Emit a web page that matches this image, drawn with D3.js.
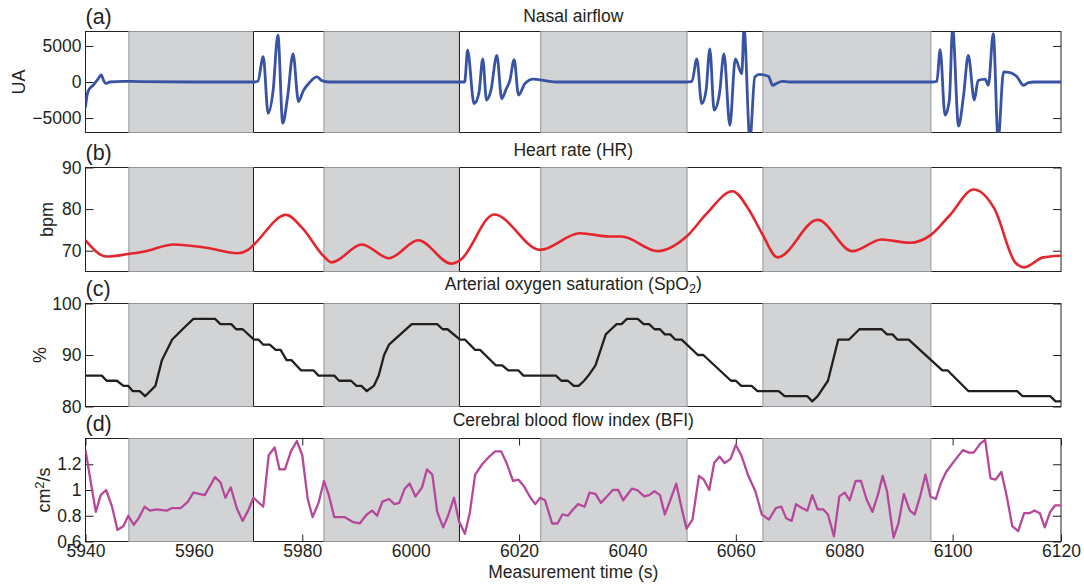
<!DOCTYPE html>
<html>
<head>
<meta charset="utf-8">
<script src="https://cdn.jsdelivr.net/npm/d3@7"></script>
<style>
  body { margin: 0; background: #fff; }
  svg { display: block; }
  text { font-family: "Liberation Sans", Arial, Helvetica, sans-serif; fill: #231f20; }
</style>
</head>
<body>
<svg id="chart" width="1084" height="584"></svg>
<script>
// time axis
const xTicks = [5940, 5960, 5980, 6000, 6020, 6040, 6060, 6080, 6100, 6120];

// apnea periods (gray) and event markers
const grayStart = [5948, 5984, 6024, 6065];
const grayEnd = [5971, 6009, 6051, 6096];
const eventLines = [5971, 6009];

// (a) nasal airflow
const airTime = [5940.0, 5940.3, 5940.6, 5941.4, 5942.3, 5942.9, 5943.3, 5943.7, 5944.5, 5946.9, 5950, 5960, 5971.0,
    5971.8, 5972.8, 5973.7, 5974.6, 5975.5, 5976.4, 5977.3, 5978.3, 5979.3, 5980.2, 5981.2, 5982.7, 5983.6, 5985.1, 5990, 6009.9,
    6010.0, 6010.5, 6011.7, 6012.6, 6013.3, 6014.0, 6014.8, 6015.9, 6016.8, 6017.6, 6018.3, 6019.1, 6019.9, 6021.1, 6022.6, 6025.1, 6027, 6050.9,
    6051.9, 6052.8, 6053.7, 6054.5, 6055.2, 6056.0, 6057.0, 6057.8, 6058.9, 6059.9, 6061.1, 6061.5, 6062.6, 6063.5, 6064.4, 6066.0, 6066.8, 6067.5, 6068.5, 6070, 6096.0,
    6097.1, 6097.7, 6098.6, 6099.4, 6100.0, 6101.1, 6102.0, 6102.9, 6104.0, 6104.7, 6106.0, 6106.6, 6107.5, 6108.4, 6109.4, 6110.6, 6111.8, 6113.1, 6114.0, 6115, 6120];
const airValue = [-3450, -1800, -1100, -450, 400, 1000, 300, -200, 0, 100, 50, 0, 0,
    100, 3500, -4350, -1300, 6500, -5700, -2000, 3900, -2700, -1200, -200, 700, 200, 0, 0, 0,
    100, 4400, -3000, -1500, 3200, -2500, -1200, 3700, -2300, -1000, 200, 3100, -1800, -200, 400, 150, 0, 0,
    100, 3200, -3000, -1200, 4600, -3900, -1500, 3900, -6000, 3200, 1150, 7500, -8000, 700, 1050, 800, -450, -200, 100, 0, 0,
    100, 4500, -4600, -2500, 7500, -6100, -2000, 3700, -2500, 200, 400, -450, 6700, -8000, 1400, 1300, 800, -450, -100, 0, 0];
const airTicks = [-5000, 0, 5000];

// (b) heart rate
const hrTime = [5940, 5943.9, 5947.9, 5950.9, 5956.3, 5962.3, 5968.1, 5970.0, 5971.1, 5977.0, 5980.1, 5984.0, 5985.4,
    5991.0, 5996.0, 6001.4, 6007.5, 6009.1, 6015.4, 6023.9, 6031.2, 6036.7, 6038.9, 6045.6, 6050.9, 6054.6, 6059.4,
    6062.3, 6064.8, 6067.7, 6075.1, 6081.5, 6086.9, 6092.1, 6096.0, 6099.4, 6103.9, 6107.7, 6111.6, 6113.2, 6116.7, 6119.9];
const hrValue = [72.5, 68.6, 69.2, 69.8, 71.5, 70.7, 69.4, 70.2, 71.5, 78.6, 75.3, 68.6, 67.2,
    71.5, 68.2, 72.5, 66.9, 67.7, 78.7, 70.2, 74.2, 73.4, 73.4, 69.9, 73.4, 78.9, 84.3,
    80.1, 74.2, 68.4, 77.4, 69.9, 72.7, 71.9, 73.8, 78.4, 84.7, 80.1, 67.1, 66.0, 68.4, 68.8];
const hrTicks = [70, 80, 90];

// (c) SpO2
const spo2Time = [5940.0, 5943.0, 5943.9, 5945.8, 5947.0, 5947.9, 5948.7, 5950.0, 5951.0, 5952.9, 5954.1, 5956.0, 5957.9, 5959.9,
    5963.9, 5964.9, 5966.9, 5967.8, 5969.0, 5971.1, 5971.9, 5972.8, 5974.0, 5975.1, 5976.0, 5977.1, 5978.0, 5979.8, 5982.1,
    5983.0, 5985.9, 5986.8, 5989.0, 5990.0, 5990.9, 5991.9, 5993.2, 5994.1, 5995.1, 5996.0, 6000.2, 6004.9, 6005.9, 6006.8,
    6009.1, 6010.0, 6011.9, 6012.8, 6015.7, 6016.9, 6018.0, 6019.9, 6020.8, 6026.8, 6027.8, 6029.0, 6030.1, 6031.0, 6032.0,
    6032.8, 6034.1, 6036.0, 6037.0, 6038.0, 6038.9, 6039.9, 6041.9, 6043.0, 6044.0, 6045.0, 6046.0, 6046.9, 6047.9, 6048.8,
    6050.0, 6053.0, 6054.0, 6059.1, 6060.0, 6061.0, 6062.9, 6064.0, 6067.9, 6069.0, 6073.2, 6074.1, 6075.1, 6077.0, 6078.9,
    6080.9, 6082.8, 6086.9, 6087.9, 6088.9, 6089.8, 6091.9, 6098.1, 6099.1, 6102.9, 6111.9, 6112.9, 6118.0, 6119.0, 6120.0];
const spo2Value = [86, 86, 85, 85, 84, 84, 83, 83, 82, 84, 89, 93, 95, 97,
    97, 96, 96, 95, 95, 93, 93, 92, 92, 91, 91, 89, 89, 87, 87,
    86, 86, 85, 85, 84, 84, 83, 84, 86, 90, 92, 96, 96, 95, 95,
    93, 93, 91, 91, 88, 88, 87, 87, 86, 86, 85, 85, 84, 84, 85,
    86, 88, 94, 95, 96, 96, 97, 97, 96, 96, 95, 95, 94, 94, 93,
    93, 90, 90, 85, 85, 84, 84, 83, 83, 82, 82, 81, 82, 85, 93,
    93, 95, 95, 94, 94, 93, 93, 87, 87, 83, 83, 82, 82, 81, 81];
const spo2Ticks = [80, 90, 100];

// (d) cerebral blood flow index
const bfiTime = [5940.0, 5940.9, 5941.9, 5942.8, 5943.8, 5944.9, 5945.9, 5947.0, 5947.9, 5948.9, 5949.8, 5950.9, 5951.9, 5953.1,
    5955.0, 5956.0, 5957.6, 5958.9, 5959.9, 5962.0, 5963.1, 5963.9, 5964.9, 5965.8, 5966.8, 5967.9, 5969.0, 5970.0, 5971.0,
    5972.8, 5973.8, 5974.9, 5975.8, 5976.8, 5977.9, 5979.0, 5980.0, 5981.0, 5981.9, 5983.0, 5984.0, 5984.9, 5985.9, 5987.8,
    5989.4, 5990.6, 5991.9, 5992.9, 5993.8, 5994.8, 5996.0, 5997.0, 5997.9, 5998.9, 5999.8, 6000.9, 6002.1, 6003.0, 6004.0,
    6004.9, 6006.0, 6006.9, 6008.0, 6008.9, 6010.0, 6010.9, 6011.9, 6013.2, 6014.5, 6015.6, 6016.7, 6017.6, 6018.9, 6019.9,
    6020.9, 6022.1, 6023.0, 6023.9, 6024.8, 6026.1, 6027.1, 6028.0, 6029.0, 6030.0, 6030.9, 6032.1, 6033.0, 6034.1, 6035.1,
    6036.0, 6037.3, 6038.3, 6039.2, 6040.8, 6041.8, 6043.1, 6044.0, 6045.0, 6046.0, 6046.9, 6047.9, 6049.0, 6050.1, 6050.9,
    6052.0, 6053.2, 6054.1, 6055.1, 6056.0, 6057.0, 6057.9, 6059.0, 6060.0, 6061.0, 6062.3, 6063.6, 6064.8, 6066.1, 6067.4,
    6068.4, 6069.3, 6070.3, 6071.1, 6072.2, 6073.2, 6074.1, 6075.1, 6076.1, 6077.0, 6078.1, 6079.1, 6080.1, 6081.0, 6082.1,
    6083.1, 6084.1, 6085.2, 6086.2, 6087.1, 6087.9, 6089.1, 6090.0, 6091.0, 6092.1, 6093.0, 6094.0, 6095.0, 6095.9, 6096.9,
    6097.8, 6098.8, 6100.4, 6101.9, 6103.0, 6103.9, 6105.1, 6106.0, 6107.0, 6107.9, 6109.0, 6110.0, 6111.0, 6112.1, 6113.2,
    6114.2, 6115.1, 6116.1, 6117.0, 6118.0, 6118.9, 6119.9];
const bfiValue = [1.31, 1.08, 0.83, 0.96, 1.00, 0.87, 0.69, 0.72, 0.80, 0.73, 0.78, 0.87, 0.84, 0.85,
    0.84, 0.86, 0.86, 0.91, 0.98, 0.96, 1.04, 1.10, 1.06, 0.94, 1.02, 0.86, 0.76, 0.84, 0.94,
    0.87, 1.27, 1.33, 1.16, 1.16, 1.30, 1.38, 1.27, 0.93, 0.79, 0.90, 1.07, 0.96, 0.79, 0.79,
    0.75, 0.74, 0.81, 0.84, 0.80, 0.91, 0.93, 0.89, 0.90, 1.01, 1.05, 0.95, 1.02, 1.16, 1.12,
    0.83, 0.71, 0.80, 0.94, 0.76, 0.66, 0.82, 1.12, 1.20, 1.26, 1.30, 1.30, 1.22, 1.07, 1.08,
    1.03, 0.94, 0.89, 0.94, 0.92, 0.74, 0.74, 0.81, 0.80, 0.85, 0.89, 0.87, 0.98, 0.97, 0.90,
    0.94, 1.00, 1.00, 0.92, 1.01, 1.00, 0.95, 0.96, 0.99, 0.96, 0.81, 0.92, 1.05, 0.84, 0.70,
    0.77, 1.11, 1.08, 1.00, 1.21, 1.26, 1.21, 1.24, 1.35, 1.27, 1.11, 0.99, 0.81, 0.77, 0.86,
    0.87, 0.78, 0.76, 0.89, 0.86, 0.84, 0.96, 0.85, 0.85, 0.81, 0.64, 0.95, 0.98, 0.92, 1.07,
    1.07, 0.93, 0.83, 0.96, 1.11, 0.99, 0.63, 0.74, 0.97, 0.84, 0.81, 0.95, 1.12, 0.95, 0.93,
    1.05, 1.14, 1.23, 1.31, 1.29, 1.29, 1.36, 1.39, 1.09, 1.08, 1.14, 0.95, 0.72, 0.68, 0.82,
    0.82, 0.84, 0.82, 0.71, 0.83, 0.88, 0.88];
const bfiTicks = [0.6, 0.8, 1, 1.2];

const svg = d3.select("#chart");
const plotLeft = 85.5, plotRight = 1061;
const x = d3.scaleLinear().domain([5940, 6120]).range([plotLeft, plotRight]);

const panels = [
    {id: "a", title: [["Nasal airflow"]], top: 31.5, bottom: 132.5, titleGap: 9.5, domain: [-7000, 7000],
     ticks: airTicks, fmt: d3.format("d"), time: airTime, value: airValue, color: "#3953a4", width: 2.8,
     curve: d3.curveMonotoneX, ylabel: [["UA"]], ylabelX: 25},
    {id: "b", title: [["Heart rate (HR)"]], top: 167.5, bottom: 271.5, titleGap: 12, domain: [65, 90],
     ticks: hrTicks, fmt: d3.format("d"), time: hrTime, value: hrValue, color: "#e3262d", width: 2.6,
     curve: d3.curveMonotoneX, ylabel: [["bpm"]], ylabelX: 53},
    {id: "c", title: [["Arterial oxygen saturation (SpO"], ["2", "sub"], [")"]], top: 303.5, bottom: 406.5, titleGap: 14, domain: [80, 100],
     ticks: spo2Ticks, fmt: d3.format("d"), time: spo2Time, value: spo2Value, color: "#231f20", width: 2.3,
     curve: d3.curveLinear, ylabel: [["%"]], ylabelX: 46},
    {id: "d", title: [["Cerebral blood flow index (BFI)"]], top: 438.5, bottom: 541.5, titleGap: 12.5, domain: [0.6, 1.4],
     ticks: bfiTicks, fmt: d3.format("~g"), time: bfiTime, value: bfiValue, color: "#b6489c", width: 2.3,
     curve: d3.curveLinear, ylabel: [["cm"], ["2", "sup"], ["/s"]], ylabelX: 50}
];

function addRichText(sel, parts) {
    parts.forEach(function(p, i) {
        const t = sel.append("tspan").text(p[0]);
        if (p[1] === "sub") t.attr("font-size", "0.72em").attr("dy", "0.3em");
        if (p[1] === "sup") t.attr("font-size", "0.72em").attr("dy", "-0.45em");
        const prev = parts[i - 1];
        if (p[1] === undefined && prev) {
            // back to baseline after sub/sup
            if (prev[1] === "sub") t.attr("dy", "-0.22em");
            if (prev[1] === "sup") t.attr("dy", "0.32em");
        }
    });
}

function drawPanel(p, isBottom) {
    const y = d3.scaleLinear().domain(p.domain).range([p.bottom, p.top]);
    const g = svg.append("g").attr("class", "panel-" + p.id);

    g.append("rect")
        .attr("x", plotLeft).attr("y", p.top)
        .attr("width", plotRight - plotLeft).attr("height", p.bottom - p.top)
        .attr("fill", "#fff");

    // inside ticks, left with labels and mirrored on the right
    g.append("g").attr("transform", `translate(${plotLeft},0)`)
        .call(d3.axisLeft(y).tickValues(p.ticks).tickFormat(p.fmt).tickSizeInner(-8).tickSizeOuter(0).tickPadding(4));
    g.append("g").attr("transform", `translate(${plotRight},0)`)
        .call(d3.axisRight(y).tickValues(p.ticks).tickFormat("").tickSizeInner(-8).tickSizeOuter(0));

    if (isBottom) {
        g.append("g").attr("transform", `translate(0,${p.bottom})`)
            .call(d3.axisBottom(x).tickValues(xTicks).tickFormat(d3.format("d")).tickSizeInner(-7).tickSizeOuter(0).tickPadding(3.5));
        g.append("g").attr("transform", `translate(0,${p.top})`)
            .call(d3.axisTop(x).tickValues(xTicks).tickFormat("").tickSizeInner(-7).tickSizeOuter(0));
    }
    g.selectAll(".domain").remove();
    g.selectAll(".tick line").attr("stroke", "#231f20");
    g.selectAll(".tick text").attr("font-size", 17.5).attr("font-family", null).attr("fill", "#231f20");

    // frame
    g.append("rect")
        .attr("x", plotLeft).attr("y", p.top)
        .attr("width", plotRight - plotLeft).attr("height", p.bottom - p.top)
        .attr("fill", "none").attr("stroke", "#231f20").attr("stroke-width", 1);

    // gray patches sit on top of the frame and ticks
    g.selectAll("rect.gray")
        .data(d3.zip(grayStart, grayEnd))
        .join("rect")
        .attr("class", "gray")
        .attr("x", d => x(d[0])).attr("y", p.top)
        .attr("width", d => x(d[1]) - x(d[0])).attr("height", p.bottom - p.top)
        .attr("fill", "#d1d3d4").attr("stroke", "#939598").attr("stroke-width", 1);

    g.selectAll("line.event")
        .data(eventLines)
        .join("line")
        .attr("class", "event")
        .attr("x1", d => x(d)).attr("x2", d => x(d))
        .attr("y1", p.top).attr("y2", p.bottom)
        .attr("stroke", "#231f20").attr("stroke-width", 1);

    g.append("clipPath").attr("id", "clip-" + p.id)
        .append("rect")
        .attr("x", plotLeft).attr("y", p.top)
        .attr("width", plotRight - plotLeft).attr("height", p.bottom - p.top);

    const line = d3.line()
        .x(d => x(d[0]))
        .y(d => y(d[1]))
        .curve(p.curve);

    g.append("path")
        .datum(d3.zip(p.time, p.value))
        .attr("clip-path", `url(#clip-${p.id})`)
        .attr("d", line)
        .attr("fill", "none")
        .attr("stroke", p.color)
        .attr("stroke-width", p.width)
        .attr("stroke-linejoin", "round")
        .attr("stroke-linecap", "round");

    // titles and labels
    const title = g.append("text")
        .attr("x", (plotLeft + plotRight) / 2).attr("y", p.top - p.titleGap)
        .attr("text-anchor", "middle").attr("font-size", 17.5);
    addRichText(title, p.title);

    g.append("text")
        .attr("x", plotLeft).attr("y", p.top - 7.5)
        .attr("font-size", 21.5)
        .text(`(${p.id})`);

    const yl = g.append("text")
        .attr("transform", `translate(${p.ylabelX},${(p.top + p.bottom) / 2}) rotate(-90)`)
        .attr("text-anchor", "middle").attr("font-size", 18);
    addRichText(yl, p.ylabel);

    if (isBottom) {
        g.append("text")
            .attr("x", (plotLeft + plotRight) / 2).attr("y", p.bottom + 36)
            .attr("text-anchor", "middle").attr("font-size", 17.5)
            .text("Measurement time (s)");
    }
}

panels.forEach((p, i) => drawPanel(p, i === panels.length - 1));
</script>
</body>
</html>
